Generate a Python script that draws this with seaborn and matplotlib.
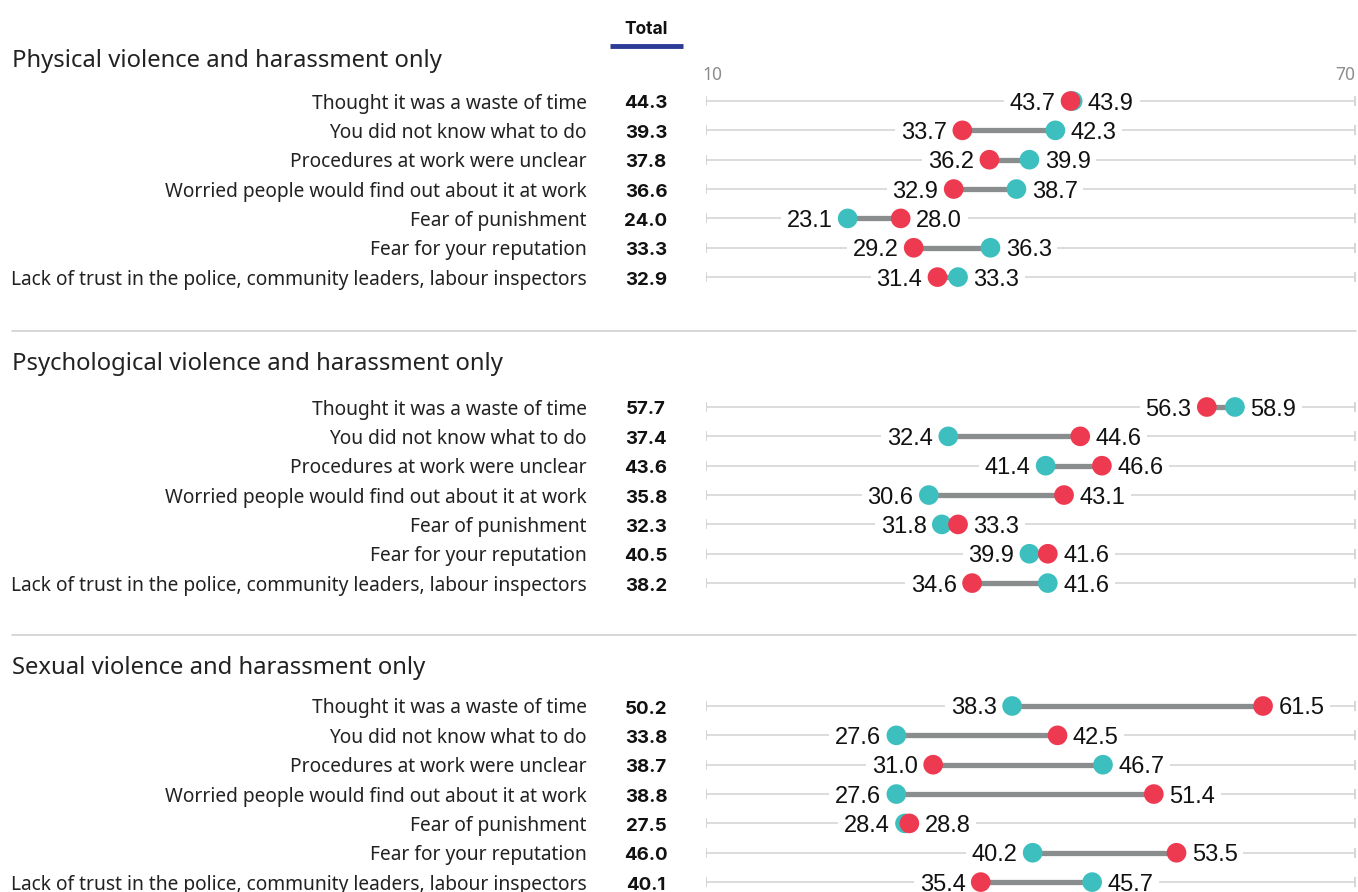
import numpy as np
import pandas as pd
import matplotlib
matplotlib.use("Agg")
import matplotlib.pyplot as plt
import matplotlib.transforms as mtransforms
import seaborn as sns

# ─────────────────────────────────────────────
#  DATA
# ─────────────────────────────────────────────
groups = [
    "Physical violence and harassment only",
    "Psychological violence and harassment only",
    "Sexual violence and harassment only",
]
reasons = [
    "Thought it was a waste of time",
    "You did not know what to do",
    "Procedures at work were unclear",
    "Worried people would find out about it at work",
    "Fear of punishment",
    "Fear for your reputation",
    "Lack of trust in the police, community leaders, labour inspectors",
]

# red series
series_a = [
    [43.7, 33.7, 36.2, 32.9, 28.0, 29.2, 31.4],
    [56.3, 44.6, 46.6, 43.1, 33.3, 41.6, 34.6],
    [61.5, 42.5, 31.0, 51.4, 28.8, 53.5, 35.4],
]
# teal series
series_b = [
    [43.9, 42.3, 39.9, 38.7, 23.1, 36.3, 33.3],
    [58.9, 32.4, 41.4, 30.6, 31.8, 39.9, 41.6],
    [38.3, 27.6, 46.7, 27.6, 28.4, 40.2, 45.7],
]
totals = [
    [44.3, 39.3, 37.8, 36.6, 24.0, 33.3, 32.9],
    [57.7, 37.4, 43.6, 35.8, 32.3, 40.5, 38.2],
    [50.2, 33.8, 38.7, 38.8, 27.5, 46.0, 40.1],
]

# ─────────────────────────────────────────────
#  LAYOUT (pixel units, top-down)
# ─────────────────────────────────────────────
W, H = 1358, 892
panel_top = [101, 407, 706]
title_y = [58, 361, 665]
sep_y = [331, 635]
row_step = 29.35
RED, TEAL = "#ee3a50", "#3dbfbf"
BOLD = ["Inter", "DejaVu Sans"]
NUM = ["Liberation Sans", "DejaVu Sans"]

rows = []
for gi, g in enumerate(groups):
    for ri, r in enumerate(reasons):
        rows.append(dict(group=g, reason=r, y=panel_top[gi] + ri * row_step,
                         a=series_a[gi][ri], b=series_b[gi][ri],
                         total=totals[gi][ri]))
df = pd.DataFrame(rows)
df["lo"] = df[["a", "b"]].min(axis=1)
df["hi"] = df[["a", "b"]].max(axis=1)

# teal first so red dots sit on top
long = pd.concat([
    df.assign(series="b", value=df["b"]),
    df.assign(series="a", value=df["a"]),
], ignore_index=True)

# ─────────────────────────────────────────────
#  PLOT
# ─────────────────────────────────────────────
sns.set_theme(style="white")
plt.rcParams["font.family"] = ["Noto Sans", "DejaVu Sans"]

fig = plt.figure(figsize=(W / 100, H / 100), dpi=100)
ax = fig.add_axes([706 / W, 0, 649 / W, 1])
ax.set_xlim(10, 70)
ax.set_ylim(H, 0)
ax.axis("off")

fx = mtransforms.blended_transform_factory(fig.transFigure, ax.transData)

# background track + end ticks
ax.hlines(df["y"], 10, 70, color="#d6d6d6", lw=1.2, zorder=1)
ax.scatter(np.r_[np.full(len(df), 10), np.full(len(df), 70)],
           np.r_[df["y"], df["y"]], marker="|", s=60, color="#d0d0d0",
           linewidths=1.2, zorder=1)

# connector
ax.hlines(df["y"], df["lo"], df["hi"], color="#8a8d8d", lw=3.8, zorder=3)

sns.scatterplot(data=long, x="value", y="y", hue="series",
                palette={"a": RED, "b": TEAL}, s=200, linewidth=0,
                legend=False, ax=ax, zorder=4)

box = dict(facecolor="white", edgecolor="none", pad=4)
for _, r in df.iterrows():
    ax.annotate(f"{r['lo']:.1f}", (r["lo"], r["y"]), xytext=(-11, 0),
                textcoords="offset points", ha="right", va="center_baseline",
                fontsize=17, family=NUM, color="#111", bbox=box, zorder=2)
    ax.annotate(f"{r['hi']:.1f}", (r["hi"], r["y"]), xytext=(11, 0),
                textcoords="offset points", ha="left", va="center_baseline",
                fontsize=17, family=NUM, color="#111", bbox=box, zorder=2)
    ax.text(587 / W, r["y"], r["reason"], transform=fx, ha="right",
            va="center_baseline", fontsize=13.8, color="#222")
    ax.text(646 / W, r["y"] + 1, f"{r['total']:.1f}", transform=fx,
            ha="center", va="center_baseline", fontsize=13.5,
            fontweight="bold", family=BOLD, color="#111")

for gi, g in enumerate(groups):
    ax.text(12 / W, title_y[gi], g, transform=fx, ha="left",
            va="center_baseline", fontsize=17.2, color="#222")

for y in sep_y:
    ax.plot([12 / W, 1356 / W], [y, y], transform=fx, color="#d0d0d0",
            lw=1.2, clip_on=False)

# header
ax.text(646 / W, 27, "Total", transform=fx, ha="center",
        va="center_baseline", fontsize=12.5, fontweight="bold",
        family=BOLD, color="#111")
ax.plot([610 / W, 683 / W], [46, 46], transform=fx, color="#2b3b96",
        lw=3.5, clip_on=False, solid_capstyle="butt")
ax.text(9.7, 73, "10", ha="left", va="center_baseline", fontsize=12.5,
        color="#8c8c8c")
ax.text(70, 73, "70", ha="right", va="center_baseline", fontsize=12.5,
        color="#8c8c8c")

fig.savefig("out.png", dpi=100)
